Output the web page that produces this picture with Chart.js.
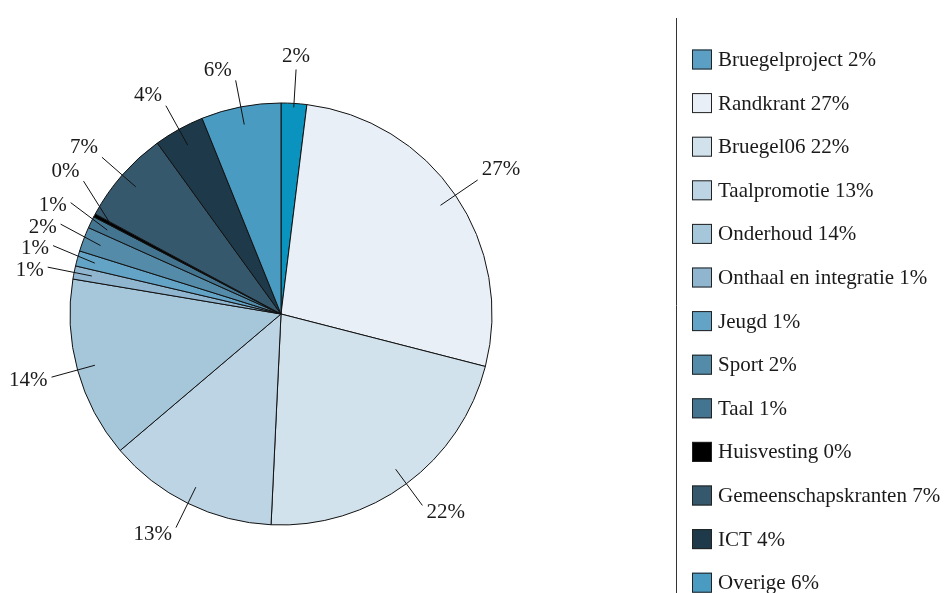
<!DOCTYPE html>
<html>
<head>
<meta charset="utf-8">
<script src="https://cdn.jsdelivr.net/npm/chart.js@4.4.1/dist/chart.umd.min.js"></script>
<style>
  html, body { margin: 0; padding: 0; background: #fff; }
  #wrap { width: 948px; height: 593px; position: relative; }
</style>
</head>
<body>
<div id="wrap"><canvas id="budget_chart"></canvas></div>
<script>
const categories = [
    'Bruegelproject', 'Randkrant', 'Bruegel06', 'Taalpromotie', 'Onderhoud',
    'Onthaal en integratie', 'Jeugd', 'Sport', 'Taal', 'Huisvesting',
    'Gemeenschapskranten', 'ICT', 'Overige'
];
// share of the total, in percent
const shares = [1.96, 27.04, 21.75, 13.05, 13.85, 1.01, 1.17, 1.88, 0.91, 0.24, 7.17, 3.87, 6.10];
const slice_colors = [
    '#0b93bf', '#e8eff6', '#d1e2ec', '#bcd4e4', '#a6c6da',
    '#8fb5cf', '#63a3c6', '#548ba8', '#447590', '#000000',
    '#35586d', '#1e3a4a', '#4a9bc1'
];
const legend_colors = [
    '#5ba0c4', '#e8eff6', '#d1e2ec', '#bcd4e4', '#a6c6da',
    '#8fb5cf', '#63a3c6', '#548ba8', '#447590', '#000000',
    '#35586d', '#1e3a4a', '#4a9bc1'
];

const font_family = '"Liberation Serif", "DejaVu Serif", serif';
const text_color = '#1a1a1a';

function pct_text(v) {
    return `${Math.round(v)}%`;
}

// leader lines + percentage labels round the pie
const leader_labels = {
    id: 'leader_labels',
    afterDatasetsDraw(chart) {
        const ctx = chart.ctx;
        const meta = chart.getDatasetMeta(0);
        const values = chart.data.datasets[0].data;
        const out_gap = 27;
        const in_gap = 18;

        const items = meta.data.map((arc, i) => {
            const a = (arc.startAngle + arc.endAngle) / 2;
            const top = Math.abs(Math.cos(a)) < 0.15;
            // the label straight on top starts at the rim and runs further out
            const R = arc.outerRadius + (top ? 34 : out_gap);
            return {
                i, a, top,
                cx: arc.x, cy: arc.y,
                r_in: arc.outerRadius - (top ? 4 : in_gap),
                R,
                ex: arc.x + Math.cos(a) * R,
                ey: arc.y + Math.sin(a) * R
            };
        });

        // push crowded labels on the left side upwards
        const spacing = 21.5;
        const left = items.filter(p => Math.cos(p.a) < -0.15).sort((p, q) => q.ey - p.ey);
        for (let k = 1; k < left.length; k++) {
            const prev = left[k - 1];
            const cur = left[k];
            if (cur.ey > prev.ey - spacing) {
                cur.ey = prev.ey - spacing;
                const dy = cur.ey - cur.cy;
                cur.ex = cur.cx - Math.sqrt(Math.max(cur.R * cur.R - dy * dy, 0));
            }
        }

        ctx.save();
        ctx.strokeStyle = '#111';
        ctx.lineWidth = 1;
        ctx.fillStyle = text_color;
        ctx.font = `21px ${font_family}`;
        items.forEach(p => {
            const sx = p.cx + Math.cos(p.a) * p.r_in;
            const sy = p.cy + Math.sin(p.a) * p.r_in;
            ctx.beginPath();
            ctx.moveTo(sx, sy);
            ctx.lineTo(p.ex, p.ey);
            ctx.stroke();

            const c = Math.cos(p.a);
            const txt = pct_text(values[p.i]);
            if (p.top) {
                ctx.textAlign = 'center';
                ctx.textBaseline = 'bottom';
                ctx.fillText(txt, p.ex, p.ey - 2);
            } else {
                // direction of the (possibly moved) end point
                const s = (p.ey - p.cy) / p.R;
                let dy = 3;
                if (s < -0.5) dy = -10;
                else if (s > 0.45) dy = 7;
                ctx.textAlign = c > 0 ? 'left' : 'right';
                ctx.textBaseline = 'middle';
                ctx.fillText(txt, p.ex + (c > 0 ? 4 : -4), p.ey + dy);
            }
        });
        ctx.restore();
    }
};

// legend column on the right with the divider line
const side_legend = {
    id: 'side_legend',
    afterDraw(chart) {
        const ctx = chart.ctx;
        const values = chart.data.datasets[0].data;
        ctx.save();
        ctx.strokeStyle = '#333';
        ctx.lineWidth = 1;
        ctx.beginPath();
        ctx.moveTo(676.5, 18);
        ctx.lineTo(676.5, chart.height);
        ctx.stroke();

        ctx.font = `21px ${font_family}`;
        ctx.textAlign = 'left';
        ctx.textBaseline = 'alphabetic';
        chart.data.labels.forEach((lab, i) => {
            const yc = 59.5 + i * 43.6;
            ctx.fillStyle = legend_colors[i];
            ctx.fillRect(692, yc - 10, 20, 20);
            ctx.strokeStyle = '#222';
            ctx.strokeRect(692.5, yc - 9.5, 19, 19);
            ctx.fillStyle = text_color;
            ctx.fillText(`${lab} ${pct_text(values[i])}`, 718, yc + 6.5);
        });
        ctx.restore();
    }
};

const chart = new Chart(document.getElementById('budget_chart'), {
    type: 'pie',
    data: {
        labels: categories,
        datasets: [{
            data: shares,
            backgroundColor: slice_colors,
            borderColor: '#111',
            borderWidth: 1
        }]
    },
    options: {
        responsive: true,
        maintainAspectRatio: false,
        animation: false,
        radius: 211,
        layout: {
            padding: { left: 60, right: 446, top: 93, bottom: 58 }
        },
        plugins: {
            legend: { display: false },
            tooltip: { enabled: false }
        }
    },
    plugins: [leader_labels, side_legend]
});
</script>
</body>
</html>
